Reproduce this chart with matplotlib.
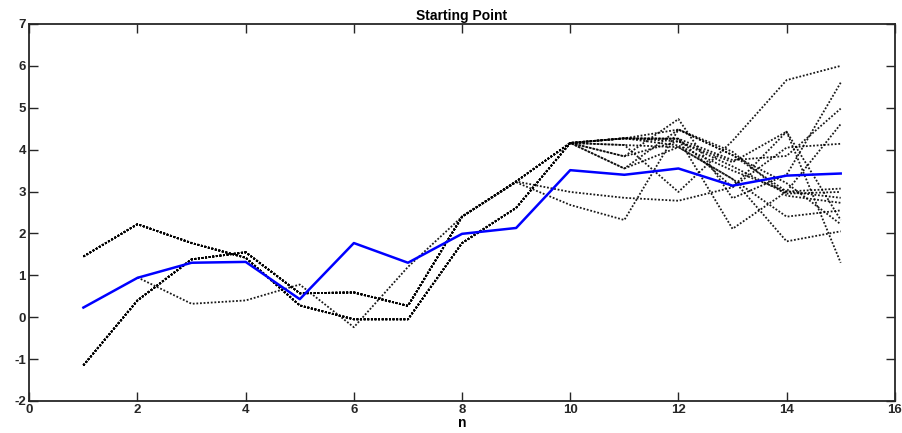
import numpy as np
import matplotlib
matplotlib.use("Agg")
import matplotlib.pyplot as plt

n = np.arange(1, 16)

# blue reference path
blue = [0.23, 0.94, 1.30, 1.32, 0.43, 1.77, 1.30, 1.99, 2.13, 3.51, 3.40, 3.55, 3.14, 3.38, 3.43]

# shared histories (x = 1..9)
hist_a = [1.45, 2.22, 1.77, 1.42, 0.28, -0.05, -0.05, 1.77, 2.61]
hist_b = [-1.15, 0.40, 1.38, 1.55, 0.57, 0.59, 0.27, 2.40, 3.24]
hist_g = [np.nan, 0.95, 0.32, 0.40, 0.78, -0.24, 1.20, 2.40, 3.22]

# tails (x = 10..15)
tails_a = [
    [4.16, 4.27, 4.26, 3.75, 3.85, 4.98],
    [4.16, 4.27, 4.26, 2.11, 3.00, 4.61],
    [4.16, 4.11, 2.99, 4.21, 5.66, 6.00],
    [4.16, 3.84, 4.73, 2.84, 3.40, 5.60],
    [4.16, 3.55, 4.06, 3.30, 2.40, 2.55],
    [4.16, 4.27, 4.48, 3.87, 3.00, 2.85],
]
tails_b = [
    [2.99, 2.85, 2.78, 3.10, 4.05, 4.14],
    [4.16, 4.27, 4.20, 3.60, 2.95, 2.99],
    [4.16, 4.11, 4.06, 3.30, 1.81, 2.05],
    [4.16, 3.84, 4.20, 3.70, 4.43, 1.30],
    [4.16, 4.27, 4.26, 3.10, 4.43, 2.32],
    [4.16, 4.27, 4.10, 3.50, 3.00, 3.07],
    [4.16, 3.55, 4.48, 3.87, 3.20, 2.22],
]
tails_g = [
    [2.68, 2.32, 4.48, 3.95, 2.90, 2.73],
]

paths = ([hist_a + t for t in tails_a] + [hist_b + t for t in tails_b]
         + [hist_g + t for t in tails_g])

xticks = [0, 2, 4, 6, 8, 10, 12, 14, 16]
yticks = [-2, -1, 0, 1, 2, 3, 4, 5, 6, 7]

plt.rcParams['font.family'] = ['Liberation Sans', 'DejaVu Sans']
plt.rcParams['axes.unicode_minus'] = False
fig = plt.figure(figsize=(9.02, 4.33), dpi=100)
ax = fig.add_axes([0.0325, 0.074, 0.9595, 0.8706])

for p in paths:
    ax.plot(n, p, color='black', alpha=0.9, linewidth=1.3,
            linestyle=(0, (1, 1)))
ax.plot(n, blue, color='#0000ff', linewidth=1.8)

ax.set_xlim(0, 16)
ax.set_ylim(-2, 7)
ax.set_xticks(xticks)
ax.set_yticks(yticks)
ax.tick_params(direction='in', length=6.5, width=1, top=True, right=True,
               labelsize=9.5, colors='#262626', pad=2.5)
for lab in ax.get_xticklabels() + ax.get_yticklabels():
    lab.set_fontweight('bold')
for s in ax.spines.values():
    s.set_linewidth(1.3)
    s.set_color('#262626')
ax.set_title('Starting Point', fontsize=10, fontweight='bold', pad=3)
ax.set_xlabel('n', fontsize=10, fontweight='bold', labelpad=0)

fig.savefig('out.png', dpi=100)
